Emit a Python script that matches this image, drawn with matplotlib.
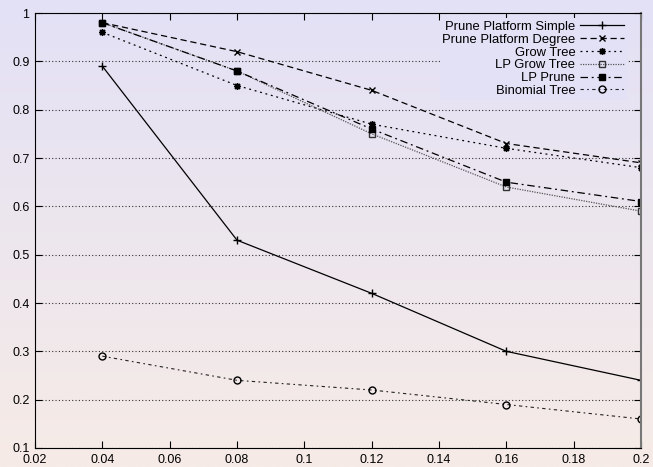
import numpy as np
import matplotlib
matplotlib.use("Agg")
import matplotlib.pyplot as plt

plt.rcParams["font.family"] = ["Liberation Sans", "DejaVu Sans"]
plt.rcParams["font.size"] = 9

# data
x = [0.04, 0.08, 0.12, 0.16, 0.2]
prune_simple = [0.89, 0.53, 0.42, 0.30, 0.24]
prune_degree = [0.98, 0.92, 0.84, 0.73, 0.69]
grow_tree = [0.96, 0.85, 0.77, 0.72, 0.68]
lp_grow_tree = [0.98, 0.88, 0.75, 0.64, 0.59]
lp_prune = [0.98, 0.88, 0.76, 0.65, 0.61]
binomial = [0.29, 0.24, 0.22, 0.19, 0.16]

xticks = [0.02, 0.04, 0.06, 0.08, 0.1, 0.12, 0.14, 0.16, 0.18, 0.2]
xticklabels = ["0.02", "0.04", "0.06", "0.08", "0.1", "0.12", "0.14", "0.16", "0.18", "0.2"]
yticks = [0.1, 0.2, 0.3, 0.4, 0.5, 0.6, 0.7, 0.8, 0.9, 1.0]
yticklabels = ["0.1", "0.2", "0.3", "0.4", "0.5", "0.6", "0.7", "0.8", "0.9", "1"]

fig = plt.figure(figsize=(6.53, 4.67), dpi=100)

# gradient background (lavender at top -> pinkish at bottom)
bg = fig.add_axes([0, 0, 1, 1], zorder=-10)
top = (227 / 255, 225 / 255, 246 / 255)
bot = (246 / 255, 235 / 255, 230 / 255)
t = np.linspace(0, 1, 256)[:, None]
grad = np.array(top)[None, :] * (1 - t) + np.array(bot)[None, :] * t
bg.imshow(grad[:, None, :], aspect="auto", extent=[0, 1, 0, 1])
bg.axis("off")

ax = fig.add_axes([35 / 653, 1 - 448 / 467, 606 / 653, 435 / 467])
ax.patch.set_alpha(0)

lw = 0.9
ax.plot(x, prune_simple, color="black", lw=lw, marker="+", ms=5.5, label="Prune Platform Simple")
ax.plot(x, prune_degree, color="black", lw=lw, dashes=(5, 3), marker="x", ms=4, label="Prune Platform Degree")
ax.plot(x, grow_tree, color="black", lw=lw, dashes=(1.5, 3), marker=(8, 2, 0), ms=5, label="Grow Tree")
ax.plot(x, lp_grow_tree, color="#555555", lw=lw, dashes=(1, 1), marker="s", ms=5,
        mfc="none", mec="#333333", label="LP Grow Tree")
ax.plot(x, lp_prune, color="black", lw=lw, dashes=(6, 3, 1.5, 3), marker="s", ms=5, label="LP Prune")
ax.plot(x, binomial, color="#222222", lw=0.8, dashes=(3, 3, 1.5, 3), marker="o", ms=5,
        mfc="none", mec="black", label="Binomial Tree")

ax.set_xlim(0.02, 0.2)
ax.set_ylim(0.1, 1.0)
ax.set_xticks(xticks)
ax.set_xticklabels(xticklabels)
ax.set_yticks(yticks)
ax.set_yticklabels(yticklabels)
ax.tick_params(direction="in", length=5, top=True, right=True, pad=4)
ax.yaxis.grid(True, color="#333333", lw=0.8, linestyle=(0, (1, 2)))
ax.set_axisbelow(True)
for s in ax.spines.values():
    s.set_color("black")
ax.spines["right"].set_color("#777777")
ax.spines["right"].set_linewidth(1.5)

# markerfirst=False right-aligns the labels against the line samples
ax.legend(loc="upper right", bbox_to_anchor=(0.977, 0.988), markerfirst=False,
          frameon=True, facecolor=top, edgecolor="none", framealpha=1,
          fontsize=9.4, handlelength=3.4, handletextpad=0.35, labelspacing=0.05,
          borderpad=0.2, borderaxespad=0, fancybox=False)

fig.savefig("out.png", dpi=100)
